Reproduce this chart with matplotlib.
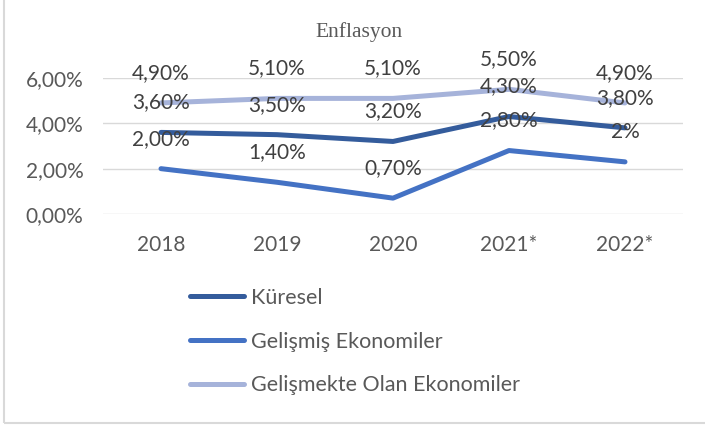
import matplotlib.pyplot as plt
from matplotlib.patches import Rectangle

# data
years = ["2018", "2019", "2020", "2021*", "2022*"]
kuresel = [3.6, 3.5, 3.2, 4.3, 3.8]
gelismis = [2.0, 1.4, 0.7, 2.8, 2.3]
gelismekte = [4.9, 5.1, 5.1, 5.5, 4.9]
lab_kuresel = ["3,60%", "3,50%", "3,20%", "4,30%", "3,80%"]
lab_gelismis = ["2,00%", "1,40%", "0,70%", "2,80%", "2%"]
lab_gelismekte = ["4,90%", "5,10%", "5,10%", "5,50%", "4,90%"]
yticks = [0, 2, 4, 6]
ytick_labels = ["0,00%", "2,00%", "4,00%", "6,00%"]

plt.rcParams['font.family'] = ['Lato', 'DejaVu Sans']

W, H = 705, 425
fig = plt.figure(figsize=(W/100, H/100), dpi=100)
ax = fig.add_axes([103/W, (H-214)/H, 580/W, 136/H])

x = range(len(years))
series = [
    ("Küresel", kuresel, lab_kuresel, "#345C9C"),
    ("Gelişmiş Ekonomiler", gelismis, lab_gelismis, "#4472C4"),
    ("Gelişmekte Olan Ekonomiler", gelismekte, lab_gelismekte, "#A6B3DA"),
]
for name, vals, labs, col in series:
    ax.plot(x, vals, color=col, lw=3.6, solid_capstyle="round", label=name)
for name, vals, labs, col in series:
    for xi, v, t in zip(x, vals, labs):
        ax.annotate(t, (xi, v), xytext=(0, 30), textcoords="offset pixels",
                    ha="center", va="center", fontsize=15, color="#404040")

ax.set_xlim(-0.5, len(years) - 0.5)
ax.set_ylim(0, 6)
ax.set_yticks(yticks)
ax.set_yticklabels(ytick_labels)
ax.set_xticks(list(x))
ax.set_xticklabels(years)
ax.tick_params(length=0, labelsize=15, labelcolor="#595959")
ax.tick_params(axis="y", pad=14)
ax.tick_params(axis="x", pad=15)
ax.grid(axis="y", color="#d9d9d9", lw=1)
ax.set_axisbelow(True)
for s in ax.spines.values():
    s.set_visible(False)

fig.text(359/W, (H-32)/H, "Enflasyon", family="Liberation Serif",
         fontsize=15.5, color="#595959", ha="center", va="center")

fig.legend(loc="upper left", bbox_to_anchor=(190/W, (H-288)/H), frameon=False,
           fontsize=15.5, labelcolor="#595959", handlelength=2.5,
           handletextpad=0.33, labelspacing=1.1, borderpad=0, borderaxespad=0)

fig.patches.append(Rectangle((4/W, 2/H), 1.1, 1.1, transform=fig.transFigure,
                             fill=False, edgecolor="#d9d9d9", lw=1.5))

fig.savefig("out.png", dpi=100)
